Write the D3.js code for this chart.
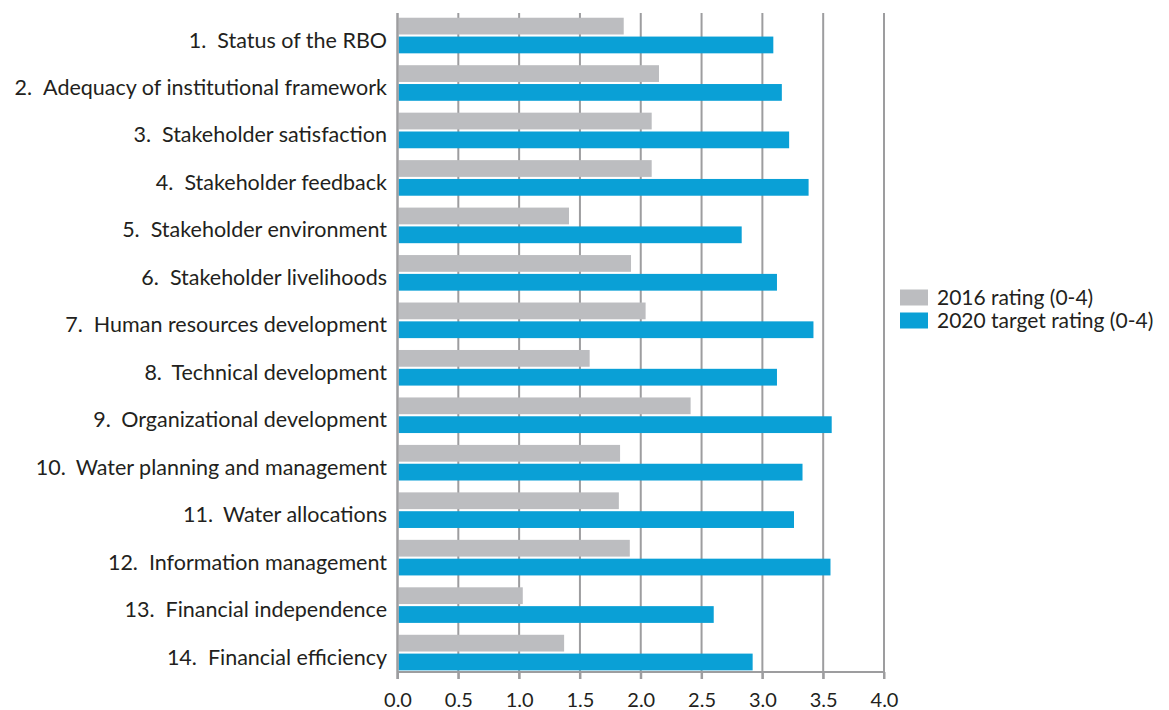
<!DOCTYPE html>
<html>
<head>
<meta charset="utf-8">
<script src="https://cdn.jsdelivr.net/npm/d3@7"></script>
<style>
  body { margin: 0; background: #fff; }
  text { font-family: Lato, "Open Sans", sans-serif; fill: #231f20; }
</style>
</head>
<body>
<svg></svg>
<script>
// data
const categories = [
  "1.|Status of the RBO",
  "2.|Adequacy of institutional framework",
  "3.|Stakeholder satisfaction",
  "4.|Stakeholder feedback",
  "5.|Stakeholder environment",
  "6.|Stakeholder livelihoods",
  "7.|Human resources development",
  "8.|Technical development",
  "9.|Organizational development",
  "10.|Water planning and management",
  "11.|Water allocations",
  "12.|Information management",
  "13.|Financial independence",
  "14.|Financial efficiency"
]
const rating2016 = [1.86, 2.15, 2.09, 2.09, 1.41, 1.92, 2.04, 1.58, 2.41, 1.83, 1.82, 1.91, 1.03, 1.37]
const target2020 = [3.09, 3.16, 3.22, 3.38, 2.83, 3.12, 3.42, 3.12, 3.57, 3.33, 3.26, 3.56, 2.60, 2.92]
const seriesNames = ["2016 rating (0-4)", "2020 target rating (0-4)"]
const xTicks = [0, 0.5, 1, 1.5, 2, 2.5, 3, 3.5, 4]

const width = 1169
const height = 710
const plotLeft = 397.5, plotRight = 884
const plotTop = 13, plotBottom = 672
const colors = ["#bcbdc0", "#0aa0d6"]

const svg = d3.select('svg').attr('width', width).attr('height', height)

const xScale = d3.scaleLinear().domain([0, 4]).range([plotLeft, plotRight])
const yScale = d3.scaleBand().domain(categories).range([11.8, 676.3]).paddingInner(0.25).paddingOuter(0.125)
const sub = d3.scaleBand().domain([0, 1]).range([0, yScale.bandwidth()]).paddingInner(0.11)

// grid lines
svg.append('g').selectAll('line').data(xTicks.slice(1)).enter().append('line')
  .attr('x1', d => xScale(d)).attr('x2', d => xScale(d))
  .attr('y1', plotTop).attr('y2', plotBottom + 7)
  .attr('stroke', '#9d9d9f').attr('stroke-width', 2)

// bars
const rows = categories.map((c, i) => ({c, vals: [rating2016[i], target2020[i]]}))
const groups = svg.append('g').selectAll('g').data(rows).enter().append('g')
  .attr('transform', d => 'translate(0,' + yScale(d.c) + ')')
groups.selectAll('rect').data(d => d.vals).enter().append('rect')
  .attr('x', xScale(0) + 1)
  .attr('y', (d, j) => sub(j))
  .attr('width', d => xScale(d) - xScale(0) - 1)
  .attr('height', sub.bandwidth())
  .attr('fill', (d, j) => colors[j])

// x axis
const xAxis = d3.axisBottom(xScale).tickValues(xTicks).tickFormat(d3.format('.1f')).tickSize(7).tickPadding(14)
const gx = svg.append('g').attr('transform', 'translate(0,' + plotBottom + ')').call(xAxis)
gx.select('.domain').attr('stroke', '#9d9d9f').attr('stroke-width', 2).attr('d', 'M' + plotLeft + ',0H' + plotRight)
gx.selectAll('.tick line').attr('stroke', '#9d9d9f').attr('stroke-width', 2)
gx.selectAll('.tick text').style('font-size', '20px').attr('fill', '#231f20').style('font-family', 'Lato, sans-serif')

// y axis line
svg.append('line').attr('x1', plotLeft).attr('x2', plotLeft).attr('y1', plotTop).attr('y2', plotBottom + 7)
  .attr('stroke', '#9d9d9f').attr('stroke-width', 2.5)

// category labels: number, then name
const labels = svg.append('g').selectAll('text').data(categories).enter().append('text')
  .attr('x', 387)
  .attr('y', d => yScale(d) + yScale.bandwidth() / 2 + 12)
  .attr('text-anchor', 'end')
  .style('font-size', '21.5px')
labels.append('tspan').text(d => d.split('|')[0])
labels.append('tspan').attr('dx', 11).text(d => d.split('|')[1])

// legend
const legend = svg.append('g').attr('transform', 'translate(900,289.5)')
seriesNames.forEach((name, i) => {
  legend.append('rect').attr('x', 0).attr('y', i * 23).attr('width', 28).attr('height', 16).attr('fill', colors[i])
  legend.append('text').attr('x', 37).attr('y', i * 23 + 15.5).style('font-size', '21px').text(name)
})
</script>
</body>
</html>
